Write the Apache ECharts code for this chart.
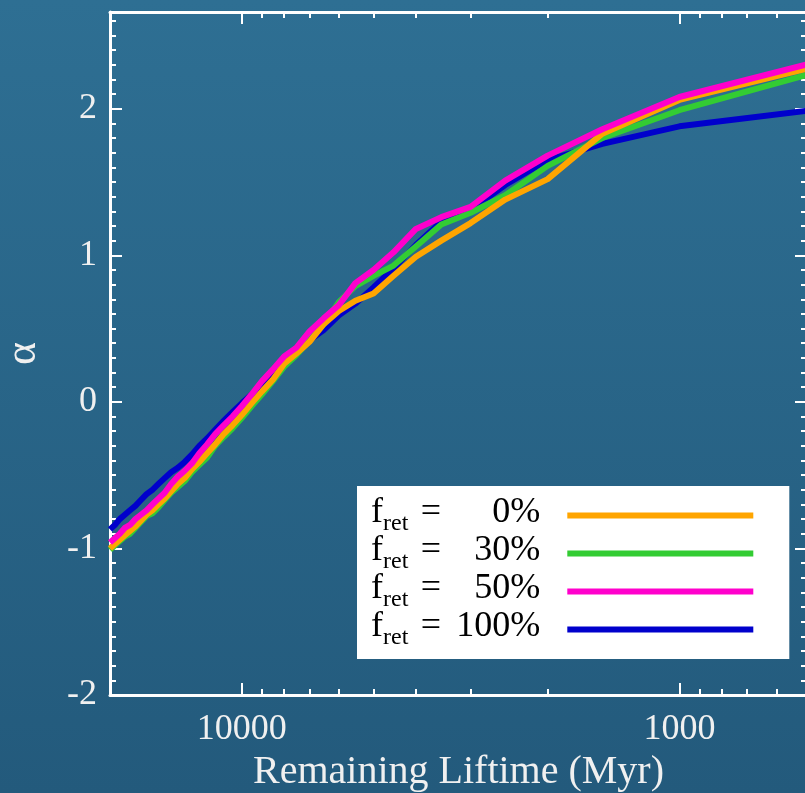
<!DOCTYPE html>
<html>
<head>
<meta charset="utf-8">
<script src="https://cdn.jsdelivr.net/npm/echarts@6/dist/echarts.min.js"></script>
<style>
html,body{margin:0;padding:0;background:#28648a;}
#chart{width:805px;height:793px;}
</style>
</head>
<body>
<div id="chart"></div>
<script>
// Remaining lifetime (Myr)
const remainingLifetime = [20000,19500,19000,18500,18000,17500,17000,16500,16000,15500,15000,14500,14000,13500,13000,12500,12000,11500,11000,10500,10000,9500,9000,8500,8000,7500,7000,6500,6000,5500,5000,4500,4000,3500,3000,2500,2000,1500,1000,500];
// alpha for each retention fraction
const alphaRet0 = [-1.00,-0.97,-0.94,-0.91,-0.88,-0.85,-0.81,-0.77,-0.74,-0.70,-0.66,-0.61,-0.56,-0.52,-0.46,-0.41,-0.35,-0.29,-0.22,-0.16,-0.09,-0.01,0.07,0.15,0.26,0.33,0.41,0.53,0.62,0.69,0.74,0.86,0.99,1.10,1.22,1.38,1.52,1.83,2.06,2.28];
const alphaRet30 = [-1.01,-0.98,-0.95,-0.92,-0.90,-0.86,-0.82,-0.78,-0.76,-0.72,-0.67,-0.62,-0.58,-0.54,-0.48,-0.43,-0.38,-0.30,-0.24,-0.18,-0.11,-0.03,0.05,0.14,0.24,0.32,0.42,0.53,0.68,0.79,0.86,0.93,1.06,1.21,1.29,1.41,1.61,1.80,1.99,2.24];
const alphaRet50 = [-0.96,-0.93,-0.90,-0.86,-0.84,-0.80,-0.77,-0.74,-0.70,-0.66,-0.62,-0.56,-0.51,-0.47,-0.42,-0.35,-0.29,-0.22,-0.16,-0.10,-0.03,0.05,0.14,0.22,0.31,0.37,0.48,0.57,0.66,0.81,0.90,1.02,1.18,1.26,1.33,1.51,1.68,1.86,2.08,2.31];
const alphaRet100 = [-0.87,-0.84,-0.80,-0.77,-0.74,-0.71,-0.67,-0.63,-0.60,-0.56,-0.52,-0.48,-0.45,-0.41,-0.36,-0.30,-0.25,-0.19,-0.13,-0.07,-0.01,0.05,0.12,0.20,0.27,0.35,0.42,0.49,0.59,0.67,0.78,0.91,1.07,1.23,1.31,1.48,1.65,1.76,1.88,1.99];

const retLabels = ['0%','30%','50%','100%'];
const seriesColors = ['#ffa500','#33cc33','#ff00cc','#0000cc'];
const xMajorTicks = [1000, 10000];
const xMinorTicks = [600,700,800,900,2000,3000,4000,5000,6000,7000,8000,9000];
const yMajorTicks = [-2,-1,0,1,2];
const yMinorTicks = [];
for (let i = -19; i <= 26; i++) { if (i % 10 !== 0) yMinorTicks.push(i / 10); }

const allAlpha = [alphaRet0, alphaRet30, alphaRet50, alphaRet100];
const names = retLabels.map(l => 'f_ret = ' + l);

const FONT = 'Liberation Serif';
const WHITE = '#ffffff';
const LABEL = '#f0f0f0';

function xAxisDef(pos, ticks, len, withLine, withLabel, extra) {
  return Object.assign({
    type: 'log', logBase: 10, min: 511, max: 20000, inverse: true, position: pos,
    gridIndex: 0,
    axisLine: {show: withLine, onZero: false, lineStyle: {color: WHITE, width: 3}},
    axisTick: {show: true, inside: true, length: len, customValues: ticks, lineStyle: {color: WHITE, width: 2}},
    axisLabel: withLabel ? {show: true, customValues: xMajorTicks, color: LABEL, fontFamily: FONT, fontSize: 36, margin: 17, formatter: v => String(Math.round(v))} : {show: false},
    splitLine: {show: false}, minorTick: {show: false}, minorSplitLine: {show: false}
  }, extra || {});
}
function yAxisDef(pos, ticks, len, withLine, withLabel, extra) {
  return Object.assign({
    type: 'value', min: -2, max: 2.66, interval: 1, position: pos, gridIndex: 0,
    axisLine: {show: withLine, onZero: false, lineStyle: {color: WHITE, width: 3}},
    axisTick: {show: true, inside: true, length: len, customValues: ticks, lineStyle: {color: WHITE, width: 2}},
    axisLabel: withLabel ? {show: true, customValues: yMajorTicks, color: LABEL, fontFamily: FONT, fontSize: 36, margin: 13, formatter: v => String(v)} : {show: false},
    splitLine: {show: false}
  }, extra || {});
}

const drawOrder = [3, 1, 0, 2];
const series = drawOrder.map(k => ({
  name: names[k], type: 'line', xAxisIndex: 0, yAxisIndex: 0,
  data: remainingLifetime.map((x, i) => [x, allAlpha[k][i]]),
  showSymbol: false, symbol: 'none', clip: true,
  lineStyle: {color: seriesColors[k], width: 6, join: 'round'},
  itemStyle: {color: seriesColors[k]},
  animation: false
}));

const chart = echarts.init(document.getElementById('chart'), null, {renderer: 'canvas'});
chart.setOption({
  animation: false,
  backgroundColor: {type: 'linear', x: 0, y: 0, x2: 0, y2: 1, colorStops: [{offset: 0, color: '#2e6f93'}, {offset: 1, color: '#235a7c'}]},
  grid: {left: 110, top: 12, width: 697, height: 683, containLabel: false, outerBoundsMode: 'none'},
  xAxis: [
    xAxisDef('bottom', xMajorTicks, 12, true, true, {
      name: 'Remaining Liftime (Myr)', nameLocation: 'middle', nameGap: 57,
      nameTextStyle: {color: LABEL, fontFamily: FONT, fontSize: 40}
    }),
    xAxisDef('bottom', xMinorTicks, 6, false, false),
    xAxisDef('top', xMajorTicks, 12, true, false),
    xAxisDef('top', xMinorTicks, 6, false, false)
  ],
  yAxis: [
    yAxisDef('left', yMajorTicks, 12, true, true, {
      name: 'α', nameLocation: 'middle', nameGap: 65, nameRotate: 90,
      nameTextStyle: {color: LABEL, fontFamily: FONT, fontSize: 44}
    }),
    yAxisDef('left', yMinorTicks, 6, false, false),
    yAxisDef('right', yMajorTicks, 12, true, false),
    yAxisDef('right', yMinorTicks, 6, false, false)
  ],
  legend: {
    data: names, orient: 'vertical', left: 357, top: 486,
    backgroundColor: '#ffffff', borderWidth: 0,
    padding: [9, 36, 9, 14], itemGap: -3,
    icon: 'rect', itemWidth: 186, itemHeight: 6, align: 'right',
    selectedMode: false,
    formatter: function (name) {
      const k = names.indexOf(name);
      return '{f|f}{sub|ret}{eq|=}{v|' + retLabels[k] + '}';
    },
    textStyle: {
      color: '#000', fontFamily: FONT, fontSize: 36, lineHeight: 41,
      rich: {
        f: {fontFamily: FONT, fontSize: 36, lineHeight: 41, color: '#000', verticalAlign: 'top'},
        sub: {fontFamily: FONT, fontSize: 24, lineHeight: 41, color: '#000', verticalAlign: 'bottom'},
        eq: {fontFamily: FONT, fontSize: 36, lineHeight: 41, color: '#000', verticalAlign: 'top', width: 45, align: 'center'},
        v: {fontFamily: FONT, fontSize: 36, lineHeight: 41, color: '#000', verticalAlign: 'top', width: 87, align: 'right', padding: [0, 22, 0, 0]}
      }
    }
  },
  series: series
});
</script>
</body>
</html>
